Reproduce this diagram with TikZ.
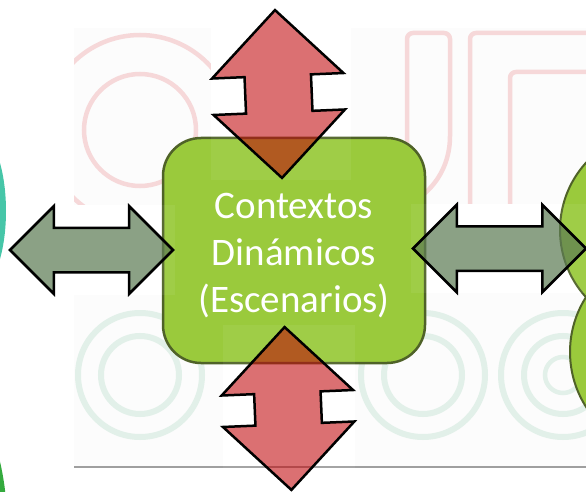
\documentclass[tikz,border=0pt]{standalone}
\usepackage{fontspec}
\setmainfont{Carlito}
\usetikzlibrary{shapes.arrows}

\definecolor{boxgreen}{RGB}{154,202,60}
\definecolor{boxedge}{RGB}{79,98,40}
\definecolor{arrowred}{RGB}{192,0,4}
\definecolor{arrowgray}{RGB}{91,122,82}
\definecolor{wmpink}{RGB}{246,216,217}
\definecolor{wmmint}{RGB}{226,240,233}
\definecolor{wmback}{RGB}{252,252,252}
\definecolor{rimteal}{RGB}{70,198,168}
\definecolor{rimgreen}{RGB}{52,170,62}

\begin{document}
\begin{tikzpicture}[x=1pt,y=-1pt,
	ctxbox/.style={rectangle,rounded corners=38pt,fill=boxgreen,draw=boxedge,line width=2.5pt,
		minimum width=262pt,minimum height=225pt},
	ctxtext/.style={text=white,align=center,font=\fontsize{39}{47}\selectfont},
	scene/.style={circle,fill=boxgreen,draw=boxedge,line width=2pt},
	vlink/.style={double arrow,rotate=92.4,double arrow head extend=32.5pt,inner xsep=0pt,inner ysep=32pt,
		fill=arrowred,fill opacity=0.56,draw=black,line width=2.5pt},
	hlink/.style={double arrow,double arrow head extend=21.5pt,inner xsep=0pt,inner ysep=21pt,
		fill=arrowgray,fill opacity=0.7,draw=black,line width=2.5pt},
	wm/.style={line width=4.5pt}]
	\useasboundingbox (0,0) rectangle (586,492);
	\clip (0,0) rectangle (586,492);

	\fill[wmback] (74,28) rectangle (586,467);
	\begin{scope}
		\clip (74,28) rectangle (586,467);
		\draw[wm,wmpink] (140,130) circle (95pt);
		\draw[wm,wmpink] (140,130) circle (56pt);
		\draw[wm,wmpink,rounded corners=6pt] (407,150) -- (407,33) -- (450,33) -- (450,130)
			.. controls (450,170) and (430,200) .. (390,212);
		\draw[wm,wmpink,rounded corners=6pt] (470,215) -- (470,33) -- (595,33);
		\draw[wm,wmpink,rounded corners=6pt] (595,72) -- (510,72) -- (510,215);
		\foreach \cx in {140,423,563} {
			\draw[wm,wmmint,line width=6pt] (\cx,375) circle (62pt);
			\draw[wm,wmmint,line width=6pt] (\cx,375) circle (39pt);
		}
		\draw[wm,wmmint] (563,375) circle (18pt);
	\end{scope}

	\foreach \xa/\ya/\xb/\yb in {211/8/351/180, 223/325/355/492, 8/205/175/295, 411/204/586/293}
		\fill[white] (\xa,\ya) rectangle (\xb,\yb);
	\draw[gray!75,line width=1.5pt] (74,467) -- (586,467);

	\fill[rimteal] (-24,211) ellipse (30pt and 80pt);
	\fill[rimgreen] (-25,540) ellipse (33pt and 120pt);

	\node[ctxbox] (ctx) at (294,250.5) {};
	\node[ctxtext] (ctxlabel) at (294,256) {Contextos\\Dinámicos\\(Escenarios)};
	\node[scene,minimum size=200pt] (sceneA) at (660,230) {};
	\node[scene,minimum size=204pt] (sceneB) at (672,352) {};

	\foreach \xa/\ya/\xb/\yb in {211/8/351/180, 223/325/355/492, 8/205/175/295, 411/204/586/293}
		\fill[white,opacity=0.06] (\xa,\ya) rectangle (\xb,\yb);

	\node[vlink,minimum height=168pt] (arrN) at (278.5,94) {};
	\node[vlink,minimum height=163pt] (arrS) at (288,408.5) {};
	\node[hlink,minimum height=163pt] (arrW) at (91.5,250) {};
	\node[hlink,minimum height=173pt] (arrE) at (499.5,248.5) {};
\end{tikzpicture}
\end{document}
